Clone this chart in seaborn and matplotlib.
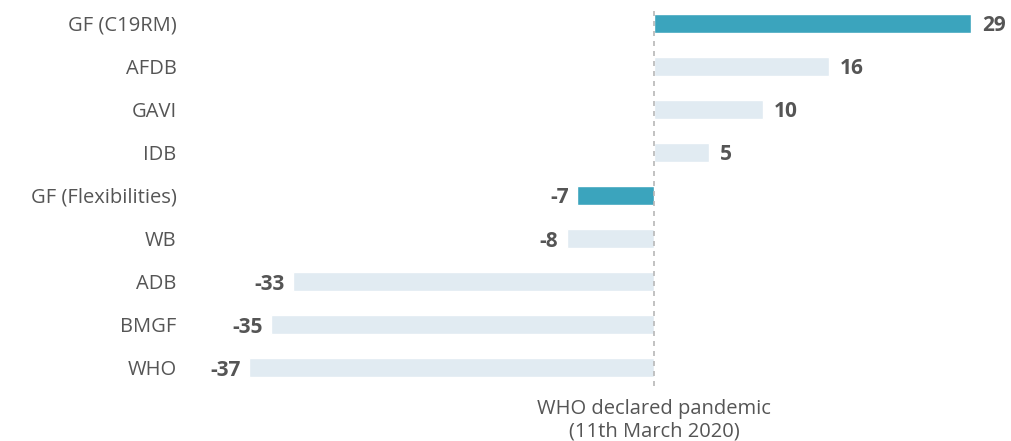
import pandas as pd
import numpy as np
import seaborn as sns
import matplotlib.pyplot as plt

funders = ["GF (C19RM)", "AFDB", "GAVI", "IDB", "GF (Flexibilities)",
           "WB", "ADB", "BMGF", "WHO"]
days = [29, 16, 10, 5, -7, -8, -33, -35, -37]
highlight = [True, False, False, False, True, False, False, False, False]

TEAL = "#3ba4bd"
PALE = "#e1ebf2"
TEXT = "#555555"

df = pd.DataFrame({"funder": funders, "days": days,
                   "group": ["GF" if h else "other" for h in highlight]})

sns.set_style("white")
plt.rcParams["font.family"] = ["Open Sans", "DejaVu Sans"]

fig = plt.figure(figsize=(10.11, 4.41), dpi=100)
ax = fig.add_axes([185 / 1011, 1 - 389.5 / 441, (971 - 185) / 1011, 388 / 441])

sns.barplot(data=df, x="days", y="funder", hue="group", orient="h",
            palette={"GF": TEAL, "other": PALE}, width=0.44, saturation=1,
            dodge=False, legend=False, ax=ax)

ax.set_xlim(-42.9, 29)
ax.set_ylim(8.5, -0.5)
ax.vlines(0, -0.28, 8.75, colors="#b8b8b8", linestyles=(0, (3, 3)), lw=1.2)

# value labels
for i, v in enumerate(days):
    if v >= 0:
        ax.text(v + 1.0, i, f"{v}", ha="left", va="center_baseline",
                fontsize=15, fontweight="bold", color=TEXT)
    else:
        ax.text(v - 0.8, i, f"{v}", ha="right", va="center_baseline",
                fontsize=15, fontweight="bold", color=TEXT)

ax.set_xlabel("")
ax.set_ylabel("")
ax.set_xticks([])
ax.tick_params(axis="y", length=0, pad=6, labelsize=14.5, labelcolor=TEXT)
for t in ax.get_yticklabels():
    t.set_verticalalignment("center_baseline")
sns.despine(ax=ax, left=True, bottom=True)

ax.text(0, -0.025, "WHO declared pandemic\n(11th March 2020)",
        transform=ax.get_xaxis_transform(), ha="center", va="top",
        fontsize=14.5, color=TEXT, linespacing=1.15)

fig.savefig("out.png", dpi=100)
